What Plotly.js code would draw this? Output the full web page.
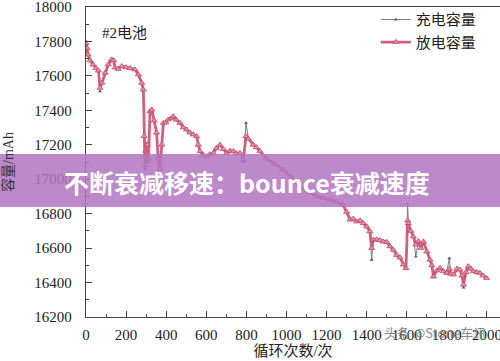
<!DOCTYPE html>
<html>
<head>
<meta charset="utf-8">
<script src="https://cdn.plot.ly/plotly-3.0.1.min.js"></script>
<style>html,body{margin:0;padding:0;background:#fff;}#chart{width:500px;height:361px;}</style>
</head>
<body>
<div id="chart"></div>
<script>
const cycles = [0,5,10,20,35,50,62,70,80,95,111,128,138,145,160,178,200,220,244,261,278,286,290,295,305,312,319,328,340,352,360,369,378,386,398,410,427,435,450,469,485,502,518,535,552,560,569,585,602,618,635,650,668,685,702,718,735,750,768,785,798,810,834,850,868,900,940,983,1025,1067,1110,1150,1183,1217,1250,1283,1300,1317,1333,1350,1367,1383,1400,1416,1425,1433,1450,1466,1483,1500,1516,1533,1550,1566,1583,1596,1604,1608,1620,1633,1645,1658,1670,1683,1700,1716,1725,1733,1750,1766,1783,1800,1812,1820,1833,1850,1865,1875,1883,1895,1907,1920,1932,1950,1965,1980,1998];
const discharge = [17790,17760,17724,17690,17665,17645,17630,17530,17560,17617,17666,17695,17690,17648,17640,17656,17650,17645,17637,17608,17559,17520,17250,17080,17200,17120,17394,17404,17340,17270,17120,17060,17200,17327,17330,17346,17356,17365,17345,17327,17300,17288,17270,17259,17249,17200,17162,17140,17133,17145,17152,17180,17200,17175,17152,17165,17162,17150,17152,17113,17250,17235,17200,17185,17162,17120,17090,17055,17010,16957,16925,16900,16890,16880,16870,16850,16810,16765,16770,16754,16760,16745,16725,16697,16600,16648,16650,16645,16638,16635,16610,16590,16560,16545,16504,16483,16760,16745,16700,16667,16620,16640,16600,16638,16580,16532,16500,16435,16470,16484,16465,16455,16480,16450,16446,16480,16474,16440,16387,16460,16494,16480,16465,16460,16455,16440,16426];
const charge = [17800,17770,17730,17695,17670,17650,17635,17510,17565,17622,17670,17700,17695,17652,17645,17660,17655,17650,17642,17612,17562,17522,17160,17060,17210,17100,17398,17408,17345,17275,17100,17050,17205,17330,17335,17350,17360,17368,17350,17330,17305,17292,17275,17263,17252,17205,17165,17143,17136,17148,17155,17183,17203,17178,17155,17168,17165,17153,17155,17100,17327,17240,17205,17190,17165,17125,17095,17060,17015,16962,16930,16905,16895,16885,16875,16855,16815,16770,16775,16758,16764,16750,16730,16700,16532,16652,16655,16650,16642,16640,16615,16595,16565,16550,16508,16478,16857,16750,16705,16672,16550,16645,16605,16642,16585,16536,16505,16430,16475,16488,16470,16460,16541,16455,16450,16485,16478,16445,16370,16465,16498,16485,16470,16465,16460,16445,16430];
const seriesNames = ['充电容量','放电容量'];
const xTitle = '循环次数/次';
const yTitle = '容量/mAh';
const batteryLabel = '#2电池';
const bannerText = '不断衰减移速：bounce衰减速度';
const watermark = '头条 @Stone车讯';

const serif = "'Liberation Serif', 'Times New Roman', 'Noto Sans CJK SC', serif";
const traces = [
  {x: cycles, y: charge, name: seriesNames[0], mode: 'lines+markers',
   line: {color: '#7a7d98', width: 1},
   marker: {symbol: 'triangle-up', size: 3.5, color: '#4a5490'}},
  {x: cycles, y: discharge, name: seriesNames[1], mode: 'lines+markers',
   line: {color: '#d2607a', width: 2.8},
   marker: {symbol: 'triangle-up', size: 5.5, color: '#e88aa0', line: {color: '#b03a52', width: 0.6}}}
];
const layout = {
  width: 500, height: 361,
  margin: {l: 86, r: 0, t: 7, b: 44},
  paper_bgcolor: '#fff', plot_bgcolor: '#fff',
  font: {family: serif, size: 14, color: '#222'},
  showlegend: true,
  legend: {x: 0.7, y: 1.012, xanchor: 'left', yanchor: 'top', bgcolor: 'rgba(0,0,0,0)',
           font: {family: serif, size: 15, color: '#222'}, tracegroupgap: 4},
  xaxis: {range: [0, 2065], dtick: 200, tick0: 0, tickformat: 'd', showgrid: false, zeroline: false,
          showline: true, linecolor: '#444', linewidth: 1.2, mirror: true,
          ticks: 'inside', ticklen: 6, tickcolor: '#444', ticklabelstandoff: 4, ticklabeloverflow: 'allow',
          minor: {dtick: 100, ticks: 'inside', ticklen: 3, tickcolor: '#444'},
          tickfont: {family: serif, size: 15, color: '#222'},
          title: {text: xTitle, font: {family: serif, size: 15, color: '#222'}, standoff: 0}},
  yaxis: {range: [16200, 18000], dtick: 200, tickformat: 'd', showgrid: false, zeroline: false,
          showline: true, linecolor: '#444', linewidth: 1.2,
          ticks: 'inside', ticklen: 6, tickcolor: '#444', ticklabelstandoff: 10, ticklabeloverflow: 'allow',
          minor: {dtick: 100, ticks: 'inside', ticklen: 3, tickcolor: '#444'},
          tickfont: {family: serif, size: 15, color: '#222'},
          title: {text: yTitle, font: {family: serif, size: 14, color: '#333'}, standoff: 18}},
  shapes: [
    {type: 'rect', xref: 'paper', yref: 'paper', x0: -0.21, x1: 1.0, y0: 0.355, y1: 0.526,
     fillcolor: 'rgba(178,118,194,0.86)', line: {width: 0}, layer: 'above'}
  ],
  annotations: [
    {text: batteryLabel, xref: 'paper', yref: 'paper', x: 0.034, y: 0.916, xanchor: 'left', yanchor: 'middle',
     showarrow: false, font: {family: serif, size: 15, color: '#222'}},
    {text: '<b>' + bannerText + '</b>', xref: 'paper', yref: 'paper', x: 0.39, y: 0.435,
     xanchor: 'center', yanchor: 'middle', showarrow: false,
     font: {family: 'Noto Sans CJK SC, sans-serif', size: 25, color: '#ffffff'}},
    {text: watermark, xref: 'paper', yref: 'paper', x: 0.97, y: -0.05, xanchor: 'right', yanchor: 'middle',
     showarrow: false, font: {family: 'Noto Sans CJK SC, sans-serif', size: 13, color: '#8a8a8a'}}
  ]
};
Plotly.newPlot('chart', traces, layout, {displayModeBar: false, staticPlot: true});
</script>
</body>
</html>
